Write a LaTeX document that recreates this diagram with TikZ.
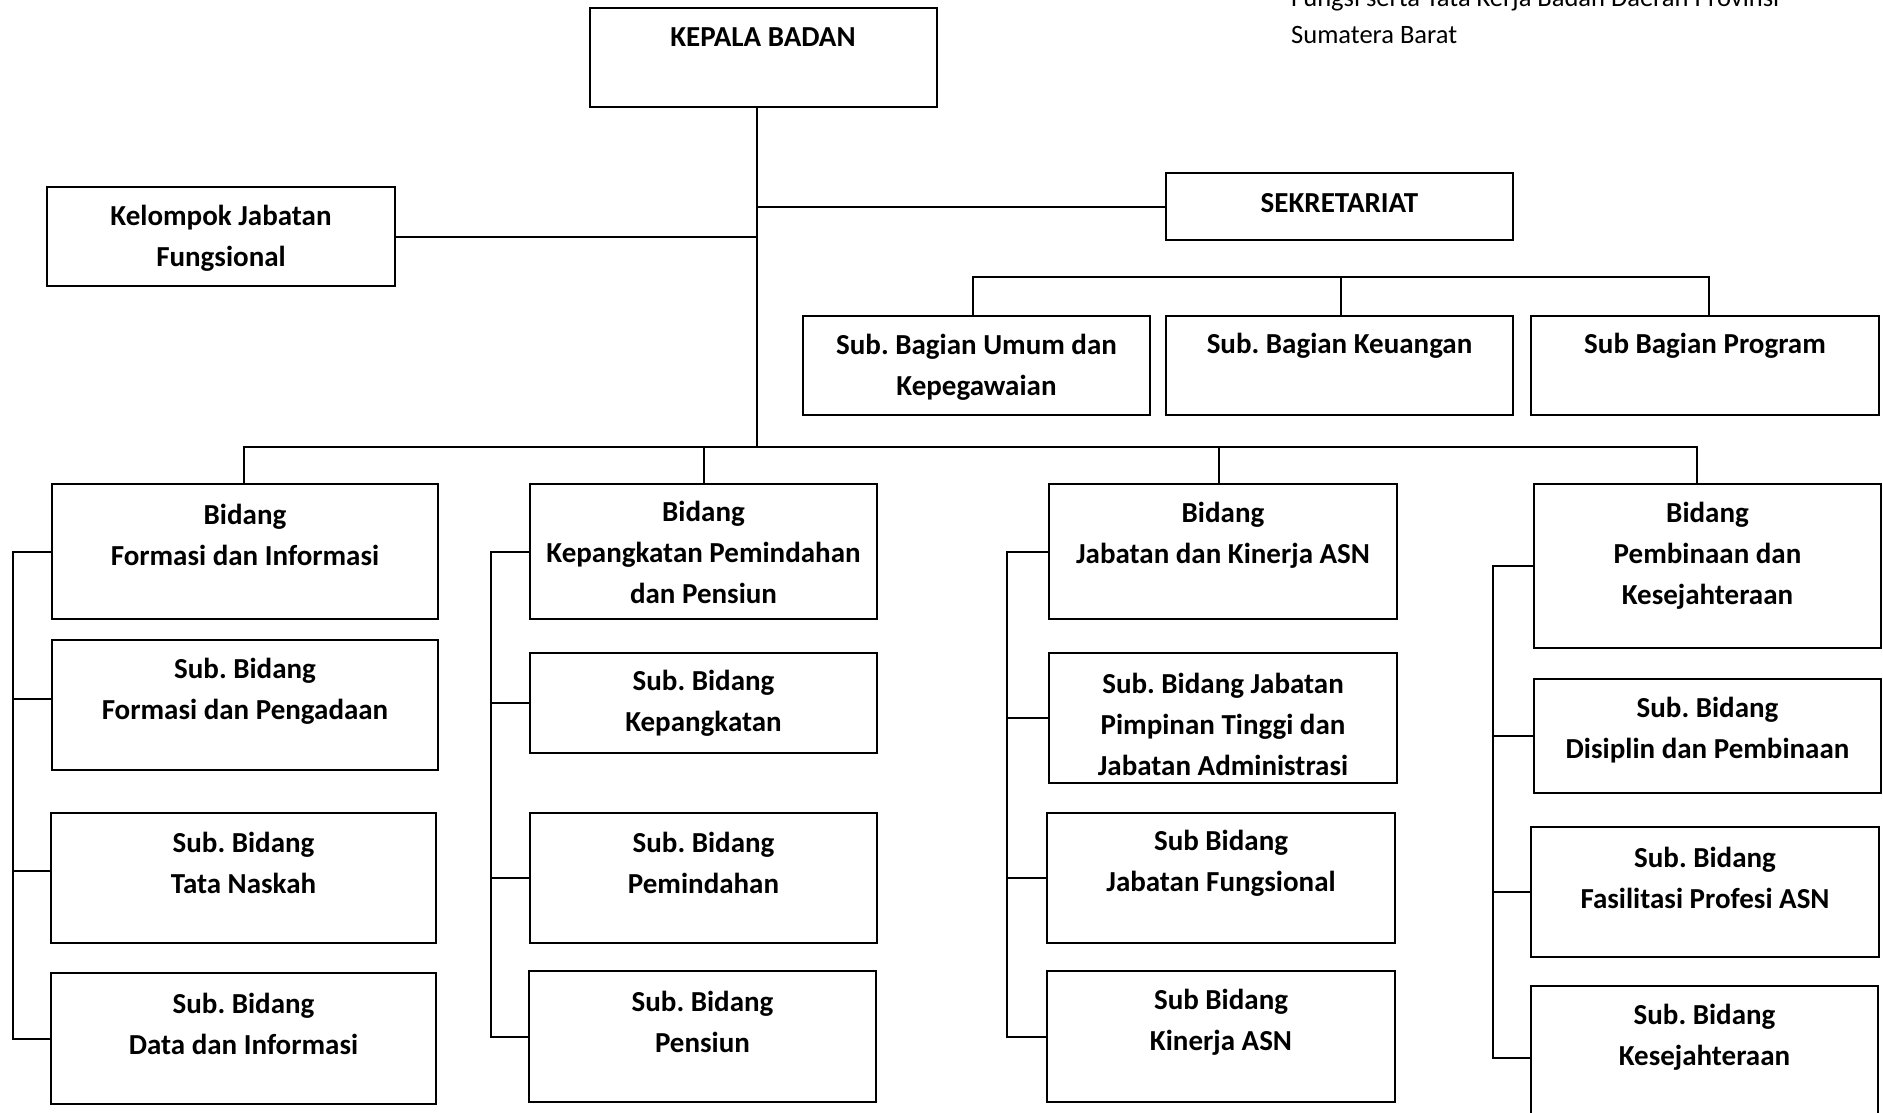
\documentclass[tikz,border=0pt]{standalone}
\usepackage{fontspec}
\setmainfont{Carlito}
\frenchspacing
\newcommand\OrgBox[5]{\node[orgbox, minimum width={#4-#2}, minimum height={#5-#3}] (#1) at ({(#2+#4)/2},{(#3+#5)/2}) {};}
\begin{document}
\begin{tikzpicture}[x=1pt,y=-1pt,
  orgbox/.style={draw, line width=2.4pt, inner sep=0pt, fill=white},
  txt/.style={font=\fontsize{29}{41}\selectfont\bfseries, align=center, inner sep=0pt},
  notetxt/.style={font=\fontsize{26.5}{37}\selectfont, inner sep=0pt, anchor=base west},
  conn/.style={line width=2pt}]
\useasboundingbox (0,0) rectangle (1883,1112);
\clip (0,0) rectangle (1883,1112);

% note text (top right)
\node[notetxt] (note1) at (1291,6) {Fungsi serta Tata Kerja Badan Daerah Provinsi};
\node[notetxt] (note2) at (1291,43) {Sumatera Barat};

% boxes
\OrgBox{kb}{590}{8}{937}{107}
\OrgBox{kjf}{47}{187}{395}{286}
\OrgBox{sek}{1166}{173}{1513}{240}
\OrgBox{sbu}{803}{316}{1150}{415}
\OrgBox{sbk}{1166}{316}{1513}{415}
\OrgBox{sbp}{1531}{316}{1879}{415}

\OrgBox{b1}{52}{484}{438}{619}
\OrgBox{b1a}{52}{640}{438}{770}
\OrgBox{b1b}{51}{813}{436}{943}
\OrgBox{b1c}{51}{973}{436}{1104}

\OrgBox{b2}{530}{484}{877}{619}
\OrgBox{b2a}{530}{653}{877}{753}
\OrgBox{b2b}{530}{813}{877}{943}
\OrgBox{b2c}{529}{971}{876}{1102}

\OrgBox{b3}{1049}{484}{1397}{619}
\OrgBox{b3a}{1049}{653}{1397}{783}
\OrgBox{b3b}{1047}{813}{1395}{943}
\OrgBox{b3c}{1047}{971}{1395}{1102}

\OrgBox{b4}{1534}{484}{1881}{648}
\OrgBox{b4a}{1534}{679}{1881}{793}
\OrgBox{b4b}{1531}{827}{1879}{957}
\OrgBox{b4c}{1531}{986}{1878}{1130}

% texts
\node[txt] (kb-t) at (763,37) {KEPALA BADAN};
\node[txt] (kjf-t) at (221,238) {Kelompok Jabatan\\Fungsional};
\node[txt] (sek-t) at (1339.5,203) {SEKRETARIAT};
\node[txt] (sbu-t) at (976.5,367) {Sub. Bagian Umum dan\\Kepegawaian};
\node[txt] (sbk-t) at (1339.5,346) {Sub. Bagian Keuangan};
\node[txt] (sbp-t) at (1705,346) {Sub Bagian Program};

\node[txt] (b1-t) at (245,535) {Bidang\\Formasi dan Informasi};
\node[txt] (b1a-t) at (245,691) {Sub. Bidang\\Formasi dan Pengadaan};
\node[txt] (b1b-t) at (243.5,863) {Sub. Bidang\\Tata Naskah};
\node[txt] (b1c-t) at (243.5,1023.5) {Sub. Bidang\\Data dan Informasi};

\node[txt] (b2-t) at (703.5,552) {Bidang\\Kepangkatan Pemindahan\\dan Pensiun};
\node[txt] (b2a-t) at (703.5,703) {Sub. Bidang\\Kepangkatan};
\node[txt] (b2b-t) at (703.5,863) {Sub. Bidang\\Pemindahan};
\node[txt] (b2c-t) at (702.5,1022) {Sub. Bidang\\Pensiun};

\node[txt] (b3-t) at (1223,535) {Bidang\\Jabatan dan Kinerja ASN};
\node[txt] (b3a-t) at (1223,724) {Sub. Bidang Jabatan\\Pimpinan Tinggi dan\\Jabatan Administrasi};
\node[txt] (b3b-t) at (1221,863) {Sub Bidang\\Jabatan Fungsional};
\node[txt] (b3c-t) at (1221,1022) {Sub Bidang\\Kinerja ASN};

\node[txt] (b4-t) at (1707.5,556) {Bidang\\Pembinaan dan\\Kesejahteraan};
\node[txt] (b4a-t) at (1707.5,730) {Sub. Bidang\\Disiplin dan Pembinaan};
\node[txt] (b4b-t) at (1705,878) {Sub. Bidang\\Fasilitasi Profesi ASN};
\node[txt] (b4c-t) at (1704.5,1037) {Sub. Bidang\\Kesejahteraan};

% connector coordinates
\coordinate (spine) at (757,447);
\coordinate (secbus) at (1341,277);
\coordinate (bus4) at (1697,447);
\coordinate (rail1) at (13,0);
\coordinate (rail2) at (491,0);
\coordinate (rail3) at (1007,0);
\coordinate (rail4) at (1493,0);

% main spine and side branches
\draw[conn] (kb.south -| spine) -- (spine);
\draw[conn] (kjf.east) -- (kjf.east -| spine);
\draw[conn] (sek.west) -- (sek.west -| spine);

% secretariat sub-bus
\draw[conn] (sbu.north -| 973,0) |- (secbus) -| (sbp.north -| 1709,0);
\draw[conn] (secbus) -- (sbk.north -| secbus);

% main bus
\draw[conn] (b1.north -| 244,0) |- (spine) -- (bus4) -- (bus4 |- b4.north);
\draw[conn] (b2.north -| 704,0) -- (spine -| 704,0);
\draw[conn] (b3.north -| 1219,0) -- (spine -| 1219,0);

% column rails
\draw[conn] (b1.west) -- (b1.west -| rail1) -- (b1c.west -| rail1) -- (b1c.west);
\draw[conn] ([yshift=6pt]b1a.west) -- ([yshift=6pt]b1a.west -| rail1);
\draw[conn] ([yshift=7pt]b1b.west) -- ([yshift=7pt]b1b.west -| rail1);

\draw[conn] (b2.west) -- (b2.west -| rail2) -- (b2c.west -| rail2) -- (b2c.west);
\draw[conn] (b2a.west) -- (b2a.west -| rail2);
\draw[conn] (b2b.west) -- (b2b.west -| rail2);

\draw[conn] (b3.west) -- (b3.west -| rail3) -- (b3c.west -| rail3) -- (b3c.west);
\draw[conn] (b3a.west) -- (b3a.west -| rail3);
\draw[conn] (b3b.west) -- (b3b.west -| rail3);

\draw[conn] (b4.west) -- (b4.west -| rail4) -- (b4c.west -| rail4) -- (b4c.west);
\draw[conn] (b4a.west) -- (b4a.west -| rail4);
\draw[conn] (b4b.west) -- (b4b.west -| rail4);
\end{tikzpicture}
\end{document}
